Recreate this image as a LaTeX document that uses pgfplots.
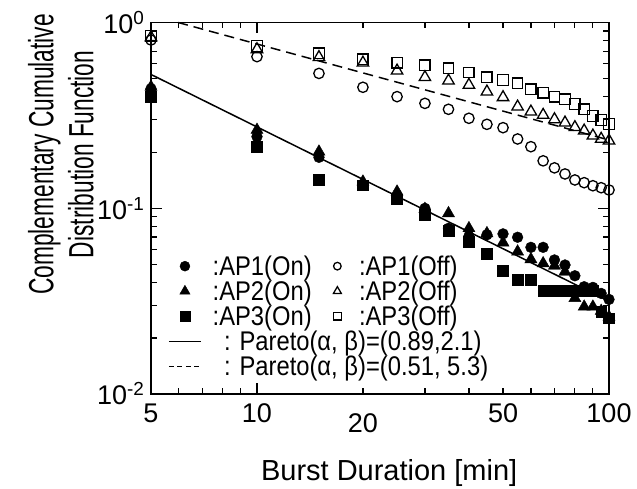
\documentclass[border=0pt]{standalone}
\usepackage{fontspec}
\setmainfont{Liberation Sans}
\usepackage{graphicx}
\usepackage{pgfplots}
\usepackage{pgfplotstable}
\pgfplotsset{compat=1.18}

\pgfplotstableread{
x on1 on2 on3 off1 off2 off3
5 0.44 0.45 0.40 0.805 0.832 0.846
10 0.243 0.264 0.2145 0.655 0.717 0.747
15 0.188 0.2016 0.143 0.532 0.65 0.683
20 0.133 0.139 0.133 0.448 0.607 0.634
25 0.113 0.1228 0.112 0.399 0.55 0.6075
30 0.0999 0.099 0.092 0.367 0.507 0.590
35 0.078 0.0939 0.076 0.341 0.486 0.567
40 0.0707 0.078 0.066 0.305 0.461 0.539
45 0.072 0.0733 0.0567 0.283 0.424 0.507
50 0.0728 0.0653 0.0461 0.2715 0.3956 0.490
55 0.0698 0.0584 0.0411 0.236 0.352 0.4707
60 0.0616 0.0531 0.0411 0.2145 0.331 0.437
65 0.0616 0.0505 0.036 0.180 0.3177 0.4189
70 0.0527 0.049 0.036 0.165 0.301 0.3986
75 0.0495 0.0455 0.036 0.153 0.2888 0.3859
80 0.0433 0.0328 0.036 0.142 0.2728 0.364
85 0.0378 0.0295 0.036 0.1373 0.2615 0.342
90 0.0375 0.0295 0.036 0.1322 0.2458 0.3137
95 0.0348 0.028 0.0277 0.129 0.236 0.2986
100 0.0323 0.026 0.0256 0.1254 0.231 0.284
}\data

\newcommand{\nr}[1]{\scalebox{0.88}[1]{#1}}

\pgfplotsset{
  mkleg/.style={legend image code/.code={\path (0pt,0pt) (32pt,0pt);\draw[mark repeat=2,mark phase=2,##1,mark size=#1] plot coordinates {(0pt,0pt) (16pt,0pt) (32pt,0pt)};}},
  lnleg/.style={legend image code/.code={\draw[##1] (0pt,0pt) -- (32pt,0pt);}},
  dsleg/.style={legend image code/.code={\draw[##1,dash pattern=on 5pt off 3.5pt] (0pt,0pt) -- (32pt,0pt);}},
}

\begin{document}
\begin{tikzpicture}
\begin{axis}[
  name=ax, at={(0pt,0pt)}, anchor=south west,
  scale only axis, width=458pt, height=371.5pt,
  xmode=log, ymode=log,
  xmin=5, xmax=100, ymin=0.01, ymax=1,
  clip=false,
  xtick={10,100}, xticklabels={10,100},
  extra x ticks={5,20,50},
  extra x tick labels={5,\raisebox{-10pt}[\height][0pt]{20},50},
  extra x tick style={major tick length=0pt},
  minor xtick={6,7,8,9,20,30,40,50,60,70,80,90},
  ytick={0.01,0.1,1},
  yticklabels={10\textsuperscript{-2},10\textsuperscript{-1},10\textsuperscript{0}},
  minor ytick={0.02,0.03,0.04,0.05,0.06,0.07,0.08,0.09,0.2,0.3,0.4,0.5,0.6,0.7,0.8,0.9},
  tick align=inside, major tick length=11pt, minor tick length=6pt,
  tick style={black, line width=1.2pt},
  axis line style={line width=1.6pt},
  tick label style={font=\fontsize{27}{27}\selectfont},
  xticklabel style={yshift=-6pt},
  yticklabel style={xshift=-3pt},
  xlabel={Burst Duration [min]},
  xlabel style={font=\fontsize{29}{29}\selectfont, at={(axis description cs:0.52,0)}, anchor=base, yshift=-86pt},
  ylabel={\scalebox{0.65}[1]{Complementary Cumulative}\\\scalebox{0.65}[1]{Distribution Function}},
  ylabel style={align=center, font=\fontsize{35}{40}\selectfont, at={(axis description cs:-0.197,0.645)}, anchor=center},
  legend columns=2,
  legend cell align=left,
  legend style={at={(rel axis cs:0.0371,0.373)}, anchor=north west, draw=none, fill=none,
    font=\fontsize{27}{27}\selectfont, inner sep=0pt, row sep=4pt,
    nodes={inner sep=0pt},
    /tikz/column 1/.style={column sep=11pt},
    /tikz/column 2/.style={column sep=9pt},
    /tikz/column 3/.style={column sep=5pt}},
]
\addplot[only marks, mark=*, mark size=5.4pt, black, mkleg=5pt] table[x=x,y=on1]{\data};
\addlegendentry{\nr{:AP1(On)}}
\addplot[only marks, mark=o, mark size=5.2pt, black, line width=1.3pt, mkleg=3.8pt] table[x=x,y=off1]{\data};
\addlegendentry{\nr{:AP1(Off)}}
\addplot[only marks, mark=triangle*, mark size=7pt, black, mkleg=6pt] table[x=x,y=on2]{\data};
\addlegendentry{\nr{:AP2(On)}}
\addplot[only marks, mark=triangle, mark size=6.6pt, black, line width=1.3pt, mkleg=4.6pt] table[x=x,y=off2]{\data};
\addlegendentry{\nr{:AP2(Off)}}
\addplot[only marks, mark=square*, mark size=5.4pt, black, mkleg=5pt] table[x=x,y=on3]{\data};
\addlegendentry{\nr{:AP3(On)}}
\addplot[only marks, mark=square, mark size=5.2pt, black, line width=1.3pt, mkleg=3.8pt] table[x=x,y=off3]{\data};
\addlegendentry{\nr{:AP3(Off)}}
\addplot[black, line width=1.5pt, lnleg] coordinates {(5,0.525) (100,0.0316)};
\addlegendentry{\makebox[0pt][l]{\hspace{11pt}\nr{: Pareto(α, β)=(0.89,2.1)}}}
\addlegendimage{empty legend}
\addlegendentry{}
\addplot[black, line width=1.5pt, dash pattern=on 10pt off 6pt, dsleg] coordinates {(5.97,1.0) (100,0.233)};
\addlegendentry{\makebox[0pt][l]{\hspace{11pt}\nr{: Pareto(α, β)=(0.51, 5.3)}}}
\addlegendimage{empty legend}
\addlegendentry{}
\coordinate (bl) at (rel axis cs:0,0);
\coordinate (tr) at (rel axis cs:1,1);
\end{axis}
\pgfresetboundingbox
\path[use as bounding box] ([xshift=-151pt,yshift=-95pt]bl) rectangle ([xshift=28pt,yshift=22.5pt]tr);
\end{tikzpicture}
\end{document}
